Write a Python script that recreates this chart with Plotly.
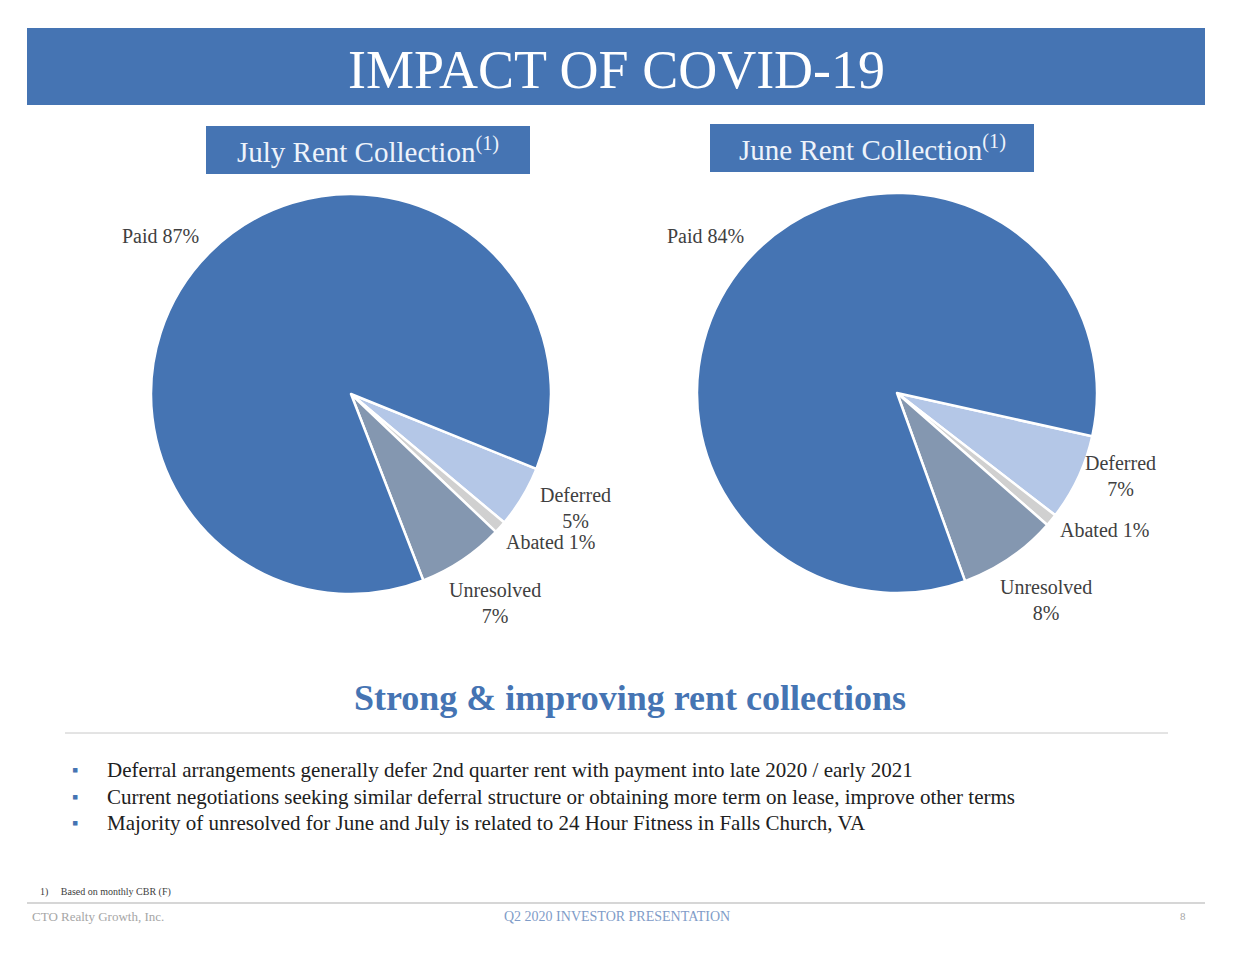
import plotly.graph_objects as go

W, H = 1233, 953

title = "IMPACT OF COVID-19"
categories = ["Deferred", "Abated", "Unresolved", "Paid"]
july_values = [5, 1, 7, 87]
june_values = [7, 1, 8, 84]
slice_colors = ["#B4C7E7", "#D0D0D0", "#8497B0", "#4574B3"]
chart_titles = ["July Rent Collection<sup>(1)</sup>", "June Rent Collection<sup>(1)</sup>"]
headline = "Strong & improving rent collections"
bullets = [
    "Deferral arrangements generally defer 2nd quarter rent with payment into late 2020 / early 2021",
    "Current negotiations seeking similar deferral structure or obtaining more term on lease, improve other terms",
    "Majority of unresolved for June and July is related to 24 Hour Fitness in Falls Church, VA",
]
footnote = "1)     Based on monthly CBR (F)"
footer_left = "CTO Realty Growth, Inc."
footer_mid = "Q2 2020 INVESTOR PRESENTATION"
footer_right = "8"

SERIF = "Liberation Serif"
BLUE = "#4574B3"
TXT = "#404040"


def px(x):
    return x / W


def py(y):
    return 1 - y / H


fig = go.Figure()

pies = [
    (july_values, (351, 394), 200, 112),
    (june_values, (897, 393), 200, 102.5),
]
for vals, (cx, cy), r, rot in pies:
    fig.add_trace(go.Pie(
        labels=categories, values=vals, sort=False, direction="clockwise",
        rotation=rot, textinfo="none", hoverinfo="label+percent",
        marker=dict(colors=slice_colors, line=dict(color="white", width=2.5)),
        domain=dict(x=[px(cx - r), px(cx + r)], y=[py(cy + r), py(cy - r)]),
        showlegend=False,
    ))

shapes = [
    dict(type="rect", xref="paper", yref="paper", x0=px(27), x1=px(1205), y0=py(105), y1=py(28),
         fillcolor=BLUE, line=dict(width=0), layer="below"),
    dict(type="rect", xref="paper", yref="paper", x0=px(206), x1=px(530), y0=py(174), y1=py(126),
         fillcolor=BLUE, line=dict(width=0), layer="below"),
    dict(type="rect", xref="paper", yref="paper", x0=px(710), x1=px(1034), y0=py(172), y1=py(124),
         fillcolor=BLUE, line=dict(width=0), layer="below"),
    dict(type="line", xref="paper", yref="paper", x0=px(65), x1=px(1168), y0=py(733), y1=py(733),
         line=dict(color="#C8C8C8", width=1)),
    dict(type="line", xref="paper", yref="paper", x0=px(27), x1=px(1205), y0=py(903), y1=py(903),
         line=dict(color="#C8C8C8", width=1.5)),
]

ann = []


def add_text(text, x, y, size, color=TXT, xanchor="center", family=SERIF):
    ann.append(dict(text=text, x=px(x), y=py(y), xref="paper", yref="paper", showarrow=False,
                    xanchor=xanchor, yanchor="middle", align="center",
                    font=dict(family=family, size=size, color=color)))


add_text(title, 616, 70, 54, color="white")
add_text(chart_titles[0], 368, 150, 29, color="#EEF3FB")
add_text(chart_titles[1], 872, 148, 29, color="#EEF3FB")

label_pos = {
    "july": {"Paid": (160, 236), "Deferred": (575, 508), "Abated": (550, 542), "Unresolved": (495, 603)},
    "june": {"Paid": (705, 236), "Deferred": (1120, 476), "Abated": (1104, 530), "Unresolved": (1046, 600)},
}
for key, vals in (("july", july_values), ("june", june_values)):
    for name, v in zip(categories, vals):
        x, y = label_pos[key][name]
        if name in ("Deferred", "Unresolved"):
            txt = f"{name}<br>{v}%"
        else:
            txt = f"{name} {v}%"
        add_text(txt, x, y, 20)

ann.append(dict(text=f"<b>{headline}</b>", x=px(630), y=py(698), xref="paper", yref="paper",
                showarrow=False, xanchor="center", yanchor="middle",
                font=dict(family=SERIF, size=36, color=BLUE)))

for i, b in enumerate(bullets):
    y = 770 + i * 26.5
    add_text("\u25aa", 75, y, 18, color=BLUE)
    add_text(b, 105, y, 21, color="#202020", xanchor="left")

add_text(footnote, 38, 892, 10, color="#404040", xanchor="left")
add_text(footer_left, 30, 916, 13, color="#A6A6A6", xanchor="left")
add_text(footer_mid, 617, 916, 14, color="#7F9CC8")
add_text(footer_right, 1183, 916, 11, color="#A6A6A6")

fig.update_layout(
    width=W, height=H, margin=dict(l=0, r=0, t=0, b=0),
    paper_bgcolor="white", plot_bgcolor="white",
    shapes=shapes, annotations=ann,
)

fig.write_html("out.html", config={"displayModeBar": False},
               post_script="document.body.style.margin='0';")
